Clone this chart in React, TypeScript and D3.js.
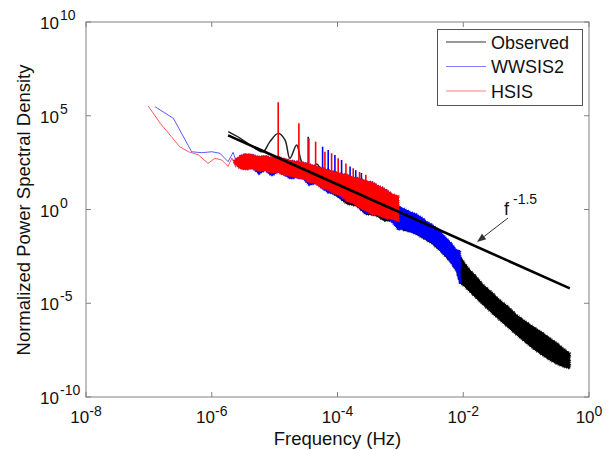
import React from "react";
import * as d3 from "d3";

// every value below is a log10 exponent
const xTickExp = [-8, -6, -4, -2, 0];
const yTickExp = [-10, -5, 0, 5, 10];

// low-frequency end of the simulated series
const hsisLowF = [-7.01, -6.82, -6.64, -6.51, -6.37, -6.21, -6.06, -5.95, -5.84, -5.74, -5.68, -5.62, -5.57];
const hsisLowP = [5.52, 4.6, 3.88, 3.35, 3.08, 2.91, 2.46, 2.73, 2.64, 2.3, 2.75, 2.25, 2.6];
const wwsisLowF = [-6.9, -6.61, -6.32, -6.16, -6.0, -5.87, -5.74, -5.66, -5.6, -5.55];
const wwsisLowP = [5.48, 4.86, 3.08, 3.03, 3.08, 3.0, 2.55, 3.05, 2.45, 2.85];

// noisy part of HSIS, drawn as an envelope
const hsisBandF = [-5.64, -5.55, -5.45, -5.35, -5.25, -5.15, -5.05, -4.95, -4.85, -4.75, -4.65, -4.55, -4.45, -4.35, -4.25, -4.15, -4.05, -3.95, -3.85, -3.75, -3.65, -3.55, -3.45, -3.35, -3.25, -3.15, -3.03];
const hsisBandTop = [2.6, 2.85, 2.95, 2.9, 2.8, 2.85, 2.75, 2.8, 2.7, 2.6, 2.55, 2.5, 2.4, 2.3, 2.2, 2.1, 2.0, 1.9, 1.85, 1.7, 1.65, 1.5, 1.45, 1.25, 1.1, 0.85, 0.7];
const hsisBandBot = [2.5, 2.2, 2.15, 2.2, 2.05, 2.1, 1.95, 2.0, 1.85, 1.8, 1.7, 1.65, 1.45, 1.4, 1.15, 1.05, 0.85, 0.75, 0.45, 0.35, 0.1, -0.05, -0.25, -0.3, -0.45, -0.5, -0.6];

// noisy part of WWSIS2
const wwsisBandF = [-5.64, -5.55, -5.45, -5.35, -5.25, -5.15, -5.05, -4.95, -4.85, -4.75, -4.65, -4.55, -4.45, -4.35, -4.25, -4.15, -4.05, -3.95, -3.85, -3.75, -3.65, -3.55, -3.45, -3.35, -3.25, -3.15, -3.03, -2.95, -2.85, -2.75, -2.65, -2.58, -2.5, -2.4, -2.32, -2.25, -2.18, -2.11, -2.05];
const wwsisBandTop = [2.6, 2.85, 2.95, 2.9, 2.8, 2.85, 2.75, 2.8, 2.7, 2.6, 2.55, 2.5, 2.4, 2.3, 2.2, 2.1, 2.0, 1.9, 1.85, 1.7, 1.65, 1.5, 1.45, 1.25, 1.1, 0.85, 0.15, 0.05, -0.12, -0.25, -0.45, -0.65, -0.8, -1.05, -1.36, -1.6, -1.85, -2.16, -2.2];
const wwsisBandBot = [2.5, 2.2, 2.15, 2.2, 1.9, 2.1, 1.8, 2.0, 1.85, 1.65, 1.7, 1.65, 1.3, 1.4, 1.15, 0.9, 0.85, 0.6, 0.45, 0.35, 0.1, -0.2, -0.25, -0.3, -0.45, -0.6, -1.09, -1.0, -1.18, -1.3, -1.45, -1.63, -1.75, -2.05, -2.34, -2.55, -2.9, -3.23, -3.94];

// daily harmonics (spikes): frequency, peak, foot
const hsisSpikeF = [-4.943, -4.614, -4.455, -4.348, -4.2, -4.094, -3.989, -3.866, -3.75, -3.65, -3.55];
const hsisSpikePeak = [5.72, 4.6, 3.8, 3.62, 3.08, 3.0, 2.73, 2.46, 2.2, 2.0, 1.85];
const hsisSpikeFoot = [2.3, 2.2, 2.0, 1.9, 1.7, 1.6, 1.5, 1.3, 1.2, 1.0, 0.9];
const wwsisSpikeF = [-4.466, -4.237, -4.148, -4.041, -3.935, -3.8, -3.71, -3.62];
const wwsisSpikePeak = [3.88, 3.35, 3.17, 2.91, 2.64, 2.3, 2.1, 1.95];
const wwsisSpikeFoot = [2.0, 1.8, 1.7, 1.5, 1.4, 1.2, 1.1, 1.0];

// observed: smoothed low-frequency part and the noisy band
const obsLineF = [-5.738, -5.552, -5.393, -5.266, -5.181, -5.075, -4.943, -4.836, -4.757, -4.65, -4.571, -4.491, -4.4, -4.332, -4.248];
const obsLineP = [4.15, 3.81, 3.44, 3.17, 3.08, 3.62, 4.06, 3.71, 2.73, 3.44, 2.55, 2.28, 2.2, 2.43, 2.0];
const obsBandF = [-4.3, -4.15, -4.0, -3.85, -3.7, -3.55, -3.4, -3.25, -3.1, -2.95, -2.8, -2.65, -2.5, -2.35, -2.2, -2.1, -2.05, -1.98, -1.895, -1.8, -1.68, -1.55, -1.42, -1.28, -1.15, -1.02, -0.89, -0.75, -0.62, -0.5, -0.41, -0.305];
const obsBandTop = [1.9, 1.8, 1.6, 1.5, 1.3, 1.1, 0.9, 0.7, 0.4, -0.1, -0.3, -0.6, -0.9, -1.3, -1.8, -2.3, -2.5, -2.85, -3.23, -3.55, -4.03, -4.4, -4.83, -5.2, -5.63, -5.95, -6.25, -6.55, -6.87, -7.15, -7.41, -7.67];
const obsBandBot = [1.3, 1.0, 0.7, 0.3, 0.2, -0.25, -0.3, -0.6, -0.6, -1.1, -1.2, -1.5, -1.8, -2.25, -2.8, -3.3, -3.92, -4.1, -4.38, -4.7, -5.09, -5.5, -5.89, -6.3, -6.69, -7.05, -7.41, -7.75, -8.03, -8.25, -8.38, -8.47];

// f^-1.5 reference line end points
const fitF = [-5.74, -0.305];
const fitP = [3.95, -4.21];

const legendItems = ["Observed", "WWSIS2", "HSIS"];
const legendColors = ["#333", "#0000ff", "#ff0000"];

const W = 608, H = 450;
const left = 86, right = 589, top = 22, bottom = 397;
const FONT = "'Liberation Sans', Arial, sans-serif";

const p10 = (v: number) => Math.pow(10, v);

const x = d3.scaleLog().domain([1e-8, 1]).range([left, right]);
const y = d3.scaleLog().domain([1e-10, 1e10]).range([bottom, top]);

const linePath = (fs: number[], ps: number[], curve = d3.curveLinear) =>
  d3.line<number>().x((d) => x(p10(fs[d]))).y((d) => y(p10(ps[d]))).curve(curve)(fs.map((_, i) => i)) || "";

const bandPath = (fs: number[], t: number[], b: number[]) =>
  d3.area<number>()
    .x((d) => x(p10(fs[d])))
    .y0((d) => y(p10(b[d])))
    .y1((d) => y(p10(t[d])))(fs.map((_, i) => i)) || "";

// solid envelope plus an uneven dashed fringe so the edge reads as dense noise
const Band = ({ d, color }: { d: string; color: string }) => (
  <g>
    <path d={d} fill={color} stroke={color} strokeWidth={1} />
    <path d={d} fill="none" stroke={color} strokeWidth={2.6} strokeDasharray="0.8 1.3 1.4 0.7 0.6 2.1 1.1 1.0" strokeOpacity={0.75} />
  </g>
);

const Spikes = ({ f, peak, foot, color }: { f: number[]; peak: number[]; foot: number[]; color: string }) => (
  <g stroke={color} strokeWidth={1.6}>
    {f.map((v, i) => (
      <line key={i} x1={x(p10(v))} x2={x(p10(v))} y1={y(p10(foot[i]))} y2={y(p10(peak[i]))} />
    ))}
  </g>
);

export default function App() {
  // arrow for the annotation
  const ax0 = 508, ay0 = 218, ax1 = 477, ay1 = 242;
  const ang = Math.atan2(ay1 - ay0, ax1 - ax0);
  const head = 9, hw = 3.5;
  const bx = ax1 - head * Math.cos(ang), by = ay1 - head * Math.sin(ang);
  const arrowHead = `M${ax1},${ay1} L${bx + hw * Math.sin(ang)},${by - hw * Math.cos(ang)} L${bx - hw * Math.sin(ang)},${by + hw * Math.cos(ang)} Z`;

  return (
    <svg width={W} height={H} style={{ position: "absolute", left: 0, top: 0, background: "#fff" }} fontFamily={FONT}>
      <defs>
        <clipPath id="plot">
          <rect x={left} y={top} width={right - left} height={bottom - top} />
        </clipPath>
      </defs>

      <g clipPath="url(#plot)">
        {/* observed */}
        <Band d={bandPath(obsBandF, obsBandTop, obsBandBot)} color="#000" />
        <path d={linePath(obsLineF, obsLineP, d3.curveCatmullRom)} fill="none" stroke="#222" strokeWidth={1.5} />
        {/* WWSIS2 */}
        <path d={linePath(wwsisLowF, wwsisLowP)} fill="none" stroke="#0000ff" strokeOpacity={0.65} strokeWidth={1} />
        <Band d={bandPath(wwsisBandF, wwsisBandTop, wwsisBandBot)} color="#0000ff" />
        <Spikes f={wwsisSpikeF} peak={wwsisSpikePeak} foot={wwsisSpikeFoot} color="#0000ff" />
        {/* HSIS */}
        <path d={linePath(hsisLowF, hsisLowP)} fill="none" stroke="#ff0000" strokeOpacity={0.65} strokeWidth={1} />
        <Band d={bandPath(hsisBandF, hsisBandTop, hsisBandBot)} color="#ff0000" />
        <Spikes f={hsisSpikeF} peak={hsisSpikePeak} foot={hsisSpikeFoot} color="#ff0000" />
        {/* fit */}
        <path d={linePath(fitF, fitP)} fill="none" stroke="#000" strokeWidth={2.6} />
      </g>

      {/* annotation */}
      <line x1={ax0} y1={ay0} x2={bx} y2={by} stroke="#333" strokeWidth={1} />
      <path d={arrowHead} fill="#333" />
      <text x={504} y={215} fontSize={18} fill="#111">
        f<tspan dx={4} dy={-11} fontSize={14}>-1.5</tspan>
      </text>

      {/* frame and ticks */}
      <rect x={left} y={top} width={right - left} height={bottom - top} fill="none" stroke="#808080" strokeWidth={1} />
      <g stroke="#808080" strokeWidth={1}>
        {xTickExp.map((e) => (
          <g key={e}>
            <line x1={x(p10(e))} x2={x(p10(e))} y1={bottom} y2={bottom - 5} />
            <line x1={x(p10(e))} x2={x(p10(e))} y1={top} y2={top + 5} />
          </g>
        ))}
        {yTickExp.map((e) => (
          <g key={e}>
            <line x1={left} x2={left + 5} y1={y(p10(e))} y2={y(p10(e))} />
            <line x1={right} x2={right - 5} y1={y(p10(e))} y2={y(p10(e))} />
          </g>
        ))}
      </g>

      <g fill="#111" fontSize={17}>
        {xTickExp.map((e) => (
          <text key={e} x={x(p10(e))} y={423} textAnchor="middle">
            10<tspan dy={-7} fontSize={14}>{e}</tspan>
          </text>
        ))}
        {yTickExp.map((e) => (
          <g key={e}>
            <text x={59} y={y(p10(e)) + 7} textAnchor="end">10</text>
            <text x={60} y={y(p10(e)) - 2} fontSize={14}>{e}</text>
          </g>
        ))}
      </g>

      <text x={(left + right) / 2} y={445} textAnchor="middle" fontSize={18.5} fill="#111">Frequency (Hz)</text>
      <text transform={`translate(30,210) rotate(-90)`} textAnchor="middle" fontSize={18.5} fill="#111">
        Normalized Power Spectral Density
      </text>

      {/* legend */}
      <rect x={437.5} y={29.5} width={145} height={76} fill="#fff" stroke="#555" strokeWidth={1} />
      {legendItems.map((name, i) => (
        <g key={name}>
          <line x1={446} x2={486} y1={42 + i * 24.5} y2={42 + i * 24.5} stroke={legendColors[i]} strokeOpacity={i === 0 ? 1 : 0.5} strokeWidth={1.2} />
          <text x={491} y={48.5 + i * 24.5} fontSize={18} fill="#111">{name}</text>
        </g>
      ))}
    </svg>
  );
}
